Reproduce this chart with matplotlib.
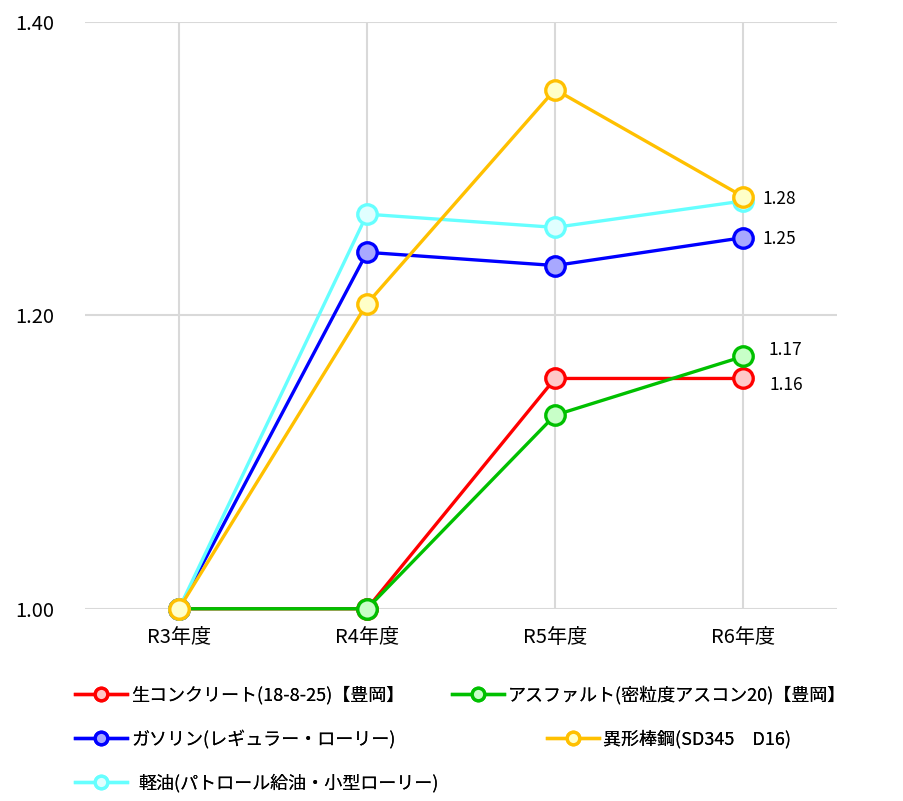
import matplotlib
matplotlib.use("Agg")
import matplotlib.pyplot as plt
from matplotlib.lines import Line2D

plt.rcParams['font.family'] = ['Noto Sans CJK JP', 'DejaVu Sans']

years = ['R3年度', 'R4年度', 'R5年度', 'R6年度']

concrete = [1.00, 1.00, 1.157, 1.157]
asphalt = [1.00, 1.00, 1.132, 1.172]
gasoline = [1.00, 1.243, 1.234, 1.253]
diesel = [1.00, 1.269, 1.260, 1.278]
rebar = [1.00, 1.208, 1.354, 1.281]

names = ['生コンクリート(18-8-25)【豊岡】', 'アスファルト(密粒度アスコン20)【豊岡】',
         'ガソリン(レギュラー・ローリー)', '異形棒鋼(SD345\u3000D16)',
         '軽油(パトロール給油・小型ローリー)']
end_labels = ['1.16', '1.17', '1.25', '1.28']

# line colour, marker fill
styles = {
    'concrete': ('#ff0000', '#ffc8c8'),
    'asphalt': ('#00c000', '#c8ffc8'),
    'gasoline': ('#0000ff', '#a8a8ff'),
    'diesel': ('#66ffff', '#e0ffff'),
    'rebar': ('#ffc000', '#ffffc8'),
}

fig = plt.figure(figsize=(9.04, 8.01), dpi=100)
ax = fig.add_axes([0.094, 0.240, 0.832, 0.7325])

x = range(len(years))
series = [('concrete', concrete, 0), ('asphalt', asphalt, 1), ('gasoline', gasoline, 2),
          ('diesel', diesel, 4), ('rebar', rebar, 3)]
handles = {}
for key, vals, idx in series:
    c, fc = styles[key]
    h, = ax.plot(x, vals, color=c, lw=2.4, marker='o', ms=14, mfc=fc, mec=c, mew=2.4,
                 clip_on=False, zorder=3)
    handles[idx] = h

ax.set_xlim(-0.5, 3.5)
ax.set_ylim(1.0, 1.4)
ax.set_yticks([1.0, 1.2, 1.4])
ax.set_yticklabels(['1.00', '1.20', '1.40'])
ax.set_xticks(list(x))
ax.set_xticklabels(years)
ax.tick_params(axis='both', length=0, labelsize=14.5)
ax.tick_params(axis='y', pad=22)
ax.tick_params(axis='x', pad=13)
ax.grid(True, color='#d9d9d9', lw=1.5, zorder=0)
for s in ax.spines.values():
    s.set_visible(False)

# end value labels
ax.annotate(end_labels[3], (3, rebar[3]), xytext=(14, -2), textcoords='offset points',
            va='center', fontsize=12.5)
ax.annotate(end_labels[2], (3, gasoline[3]), xytext=(14, -1), textcoords='offset points',
            va='center', fontsize=12.5)
ax.annotate(end_labels[1], (3, asphalt[3]), xytext=(18, 5), textcoords='offset points',
            va='center', fontsize=12.5)
ax.annotate(end_labels[0], (3, concrete[3]), xytext=(19, -5), textcoords='offset points',
            va='center', fontsize=12.5)

# legend laid out like the original, one entry per box
legend_pos = [(0.083, 0.132), (0.500, 0.132), (0.083, 0.077), (0.605, 0.077), (0.083, 0.022)]
text_pads = [0.2, 0.2, 0.2, 0.2, 0.6]
for idx, pos in enumerate(legend_pos):
    h = handles[idx]
    proxy = Line2D([], [], color=h.get_color(), lw=2.4, marker='o', ms=9,
                   mfc=h.get_markerfacecolor(), mec=h.get_color(), mew=2.4)
    lg = fig.legend([proxy], [names[idx]], loc='center left', bbox_to_anchor=pos,
                    frameon=False, fontsize=13, handlelength=2.9, handletextpad=text_pads[idx],
                    borderpad=0, borderaxespad=0)
    fig.add_artist(lg)

fig.savefig('out.png', dpi=100)
